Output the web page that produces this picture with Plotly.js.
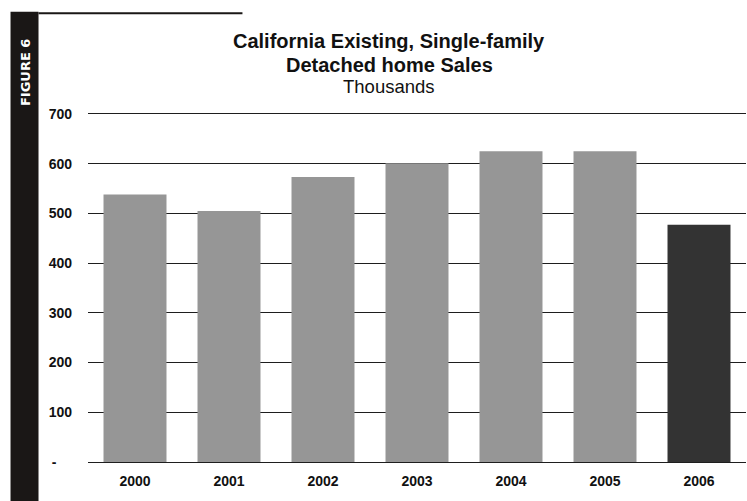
<!DOCTYPE html>
<html>
<head>
<meta charset="utf-8">
<script src="https://cdn.plot.ly/plotly-3.0.1.min.js"></script>
<style>
  html, body { margin: 0; padding: 0; background: #ffffff; }
  #chart { width: 747px; height: 501px; }
</style>
</head>
<body>
<div id="chart"></div>
<script>
const years = ["2000", "2001", "2002", "2003", "2004", "2005", "2006"];
const sales = [538, 505, 573, 601, 625, 625, 477];
const barColors = ["#969696", "#969696", "#969696", "#969696", "#969696", "#969696", "#333333"];
const yTickVals = [0, 100, 200, 300, 400, 500, 600, 700];
const yTickText = ["-\u00a0\u00a0\u00a0\u00a0", "100", "200", "300", "400", "500", "600", "700"];
const titleLine1 = "California Existing, Single-family";
const titleLine2 = "Detached home Sales";
const subtitle = "Thousands";
const figureLabel = "FIGURE 6";

const W = 747, H = 501;
const ML = 87.5, MR = 1.3, MT = 111, MB = 39;
const PW = W - ML - MR, PH = H - MT - MB;
const px = v => (v - ML) / PW;          // pixel x -> paper x
const py = v => (H - MB - v) / PH;      // pixel y -> paper y

const trace = {
  type: "bar",
  x: years,
  y: sales,
  marker: { color: barColors, line: { width: 0 } },
  hoverinfo: "skip"
};

const FONT = "Liberation Sans, Arial, sans-serif";

const layout = {
  width: W, height: H,
  margin: { l: ML, r: MR, t: MT, b: MB, pad: 0 },
  paper_bgcolor: "#ffffff",
  plot_bgcolor: "#ffffff",
  bargap: 0.33,
  showlegend: false,
  font: { family: FONT, color: "#111111" },
  xaxis: {
    type: "category",
    showgrid: false,
    showline: false,
    zeroline: false,
    ticks: "",
    tickfont: { size: 14, family: FONT, color: "#111111", weight: "bold" },
    ticklabelstandoff: 9
  },
  yaxis: {
    range: [0, 706],
    tickvals: yTickVals,
    ticktext: yTickText,
    showgrid: true,
    gridcolor: "#1e1e1e",
    gridwidth: 1,
    zeroline: true,
    zerolinecolor: "#1e1e1e",
    zerolinewidth: 1,
    showline: false,
    ticks: "",
    ticklabelstandoff: 15,
    tickfont: { size: 14, family: FONT, color: "#111111", weight: "bold" },
    fixedrange: true
  },
  shapes: [
    { type: "rect", xref: "paper", yref: "paper",
      x0: px(10), x1: px(38), y0: py(H), y1: py(11.7),
      fillcolor: "#1a1716", line: { width: 0 }, layer: "below" },
    { type: "rect", xref: "paper", yref: "paper",
      x0: px(38), x1: px(242), y0: py(14.3), y1: py(12.3),
      fillcolor: "#1a1716", line: { width: 0 }, layer: "below" }
  ],
  annotations: [
    { text: "<b>" + titleLine1 + "</b>", showarrow: false, xref: "paper", yref: "paper",
      x: px(389), y: py(41), xanchor: "center", yanchor: "middle",
      font: { size: 20, family: FONT, color: "#111111" } },
    { text: "<b>" + titleLine2 + "</b>", showarrow: false, xref: "paper", yref: "paper",
      x: px(389), y: py(64.5), xanchor: "center", yanchor: "middle",
      font: { size: 20, family: FONT, color: "#111111" } },
    { text: subtitle, showarrow: false, xref: "paper", yref: "paper",
      x: px(389), y: py(86.5), xanchor: "center", yanchor: "middle",
      font: { size: 18.5, family: FONT, color: "#111111" } },
    { text: "<b>" + figureLabel + "</b>", textangle: -90, showarrow: false,
      xref: "paper", yref: "paper",
      x: px(25), y: py(72.5), xanchor: "center", yanchor: "middle",
      font: { size: 13, family: "DejaVu Sans, sans-serif", color: "#ffffff" } }
  ]
};

Plotly.newPlot("chart", [trace], layout, { displayModeBar: false, staticPlot: true });
</script>
</body>
</html>
